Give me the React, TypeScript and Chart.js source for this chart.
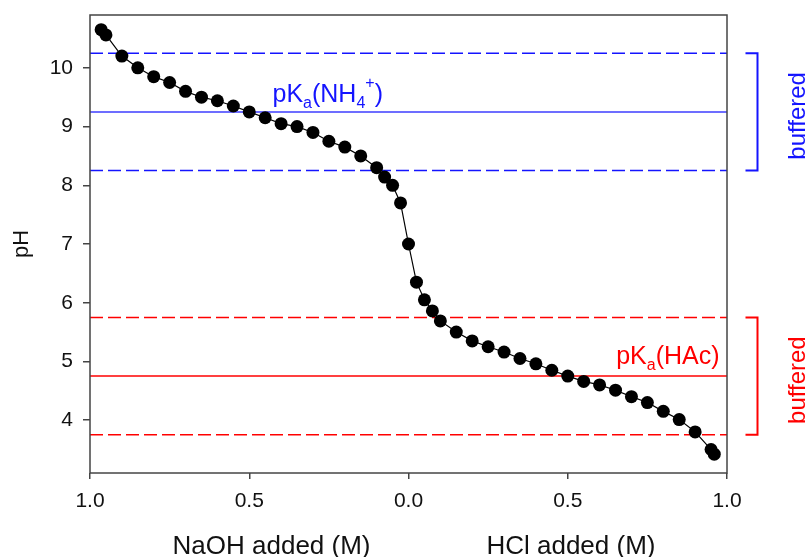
import React, { useEffect, useRef } from "react";
import { Chart, registerables } from "chart.js";

Chart.register(...registerables);

// ---- data ----
const addedM = [
  -0.965, -0.95, -0.9, -0.85, -0.8, -0.75, -0.7, -0.65, -0.6, -0.55, -0.5, -0.45,
  -0.4, -0.35, -0.3, -0.25, -0.2, -0.15, -0.1, -0.075, -0.05, -0.025, 0, 0.025,
  0.05, 0.075, 0.1, 0.15, 0.2, 0.25, 0.3, 0.35, 0.4, 0.45, 0.5, 0.55, 0.6, 0.65,
  0.7, 0.75, 0.8, 0.85, 0.9, 0.95, 0.96,
];
const pHValues = [
  10.65, 10.56, 10.2, 10.0, 9.85, 9.75, 9.6, 9.5, 9.44, 9.35, 9.25, 9.15, 9.05,
  9.0, 8.9, 8.75, 8.65, 8.5, 8.3, 8.14, 8.0, 7.7, 7.0, 6.35, 6.05, 5.86, 5.69,
  5.5, 5.35, 5.25, 5.16, 5.05, 4.96, 4.85, 4.75, 4.66, 4.6, 4.51, 4.4, 4.3, 4.15,
  4.01, 3.8, 3.5, 3.42,
];
const xTickValues = [-1, -0.5, 0, 0.5, 1];
const yTickValues = [4, 5, 6, 7, 8, 9, 10];
const pKaNH4 = 9.25;
const pKaHAc = 4.75;
const bufferRange = 1;
const xTitles = ["NaOH added (M)", "HCl added (M)"];
const yTitle = "pH";
const bufferLabel = "buffered";

const BLUE = "rgb(20,20,255)";
const BLUE_SOLID = "rgb(60,60,255)";
const RED = "rgb(255,0,0)";
const FONT = '"Liberation Sans", Arial, Helvetica, sans-serif';

function drawRich(ctx: CanvasRenderingContext2D, parts: [string, string][], x: number, y: number, color: string) {
  let cx = x;
  ctx.fillStyle = color;
  ctx.textAlign = "left";
  ctx.textBaseline = "alphabetic";
  for (const [t, k] of parts) {
    ctx.font = k === "n" ? `25px ${FONT}` : `16px ${FONT}`;
    const dy = k === "sub" ? 6 : k === "sup" ? -14 : 0;
    ctx.fillText(t, cx, y + dy);
    cx += ctx.measureText(t).width;
  }
}

const annotatePlugin = {
  id: "annotate",
  afterDraw(chart: any) {
    const { ctx, chartArea: ca, scales } = chart;
    const x = scales.x;
    const y = scales.y;
    ctx.save();
    // frame
    ctx.strokeStyle = "#444";
    ctx.lineWidth = 1.5;
    ctx.strokeRect(ca.left, ca.top, ca.right - ca.left, ca.bottom - ca.top);

    // brackets + labels
    const bx = ca.right + 30.5;
    const bracket = (center: number, color: string) => {
      const yt = y.getPixelForValue(center + bufferRange);
      const yb = y.getPixelForValue(center - bufferRange);
      ctx.strokeStyle = color;
      ctx.lineWidth = 2;
      ctx.beginPath();
      ctx.moveTo(bx - 12, yt);
      ctx.lineTo(bx, yt);
      ctx.lineTo(bx, yb);
      ctx.lineTo(bx - 12, yb);
      ctx.stroke();
      ctx.save();
      ctx.translate(ca.right + 78, (yt + yb) / 2 + 4);
      ctx.rotate(-Math.PI / 2);
      ctx.fillStyle = color;
      ctx.font = `24px ${FONT}`;
      ctx.textAlign = "center";
      ctx.textBaseline = "alphabetic";
      ctx.fillText(bufferLabel, 0, 0);
      ctx.restore();
    };
    bracket(pKaNH4, BLUE);
    bracket(pKaHAc, RED);

    // pKa labels
    drawRich(
      ctx,
      [["pK", "n"], ["a", "sub"], ["(NH", "n"], ["4", "sub"], ["+", "sup"], [")", "n"]],
      x.getPixelForValue(-0.427),
      y.getPixelForValue(9.42),
      BLUE
    );
    drawRich(
      ctx,
      [["pK", "n"], ["a", "sub"], ["(HAc)", "n"]],
      x.getPixelForValue(0.652),
      y.getPixelForValue(4.95),
      RED
    );

    // axis titles
    ctx.fillStyle = "#111";
    ctx.font = `26px ${FONT}`;
    ctx.textAlign = "center";
    ctx.textBaseline = "alphabetic";
    ctx.fillText(xTitles[0], x.getPixelForValue(-0.43), 553.5);
    ctx.fillText(xTitles[1], x.getPixelForValue(0.51), 553.5);
    ctx.save();
    ctx.translate(21.5, (ca.top + ca.bottom) / 2);
    ctx.rotate(-Math.PI / 2);
    ctx.textBaseline = "middle";
    ctx.font = `22px ${FONT}`;
    ctx.fillText(yTitle, 0, 0);
    ctx.restore();
    ctx.restore();
  },
};

export default function App() {
  const ref = useRef<HTMLCanvasElement | null>(null);
  useEffect(() => {
    document.body.style.margin = "0";
    const canvas = ref.current;
    if (!canvas) return;
    const hline = (v: number, color: string, dashed: boolean) => ({
      type: "line" as const,
      data: [
        { x: -1, y: v },
        { x: 1, y: v },
      ],
      borderColor: color,
      borderWidth: 1.5,
      borderDash: dashed ? [13, 5] : [],
      pointRadius: 0,
      showLine: true,
      order: 2,
    });
    const chart = new Chart(canvas, {
      type: "scatter",
      data: {
        datasets: [
          {
            data: addedM.map((v, i) => ({ x: v, y: pHValues[i] })),
            showLine: true,
            borderColor: "#000",
            borderWidth: 1.2,
            backgroundColor: "#000",
            pointBackgroundColor: "#000",
            pointBorderWidth: 0,
            pointRadius: 6.5,
            order: 0,
          } as any,
          hline(pKaNH4 + bufferRange, BLUE, true),
          hline(pKaNH4, BLUE_SOLID, false),
          hline(pKaNH4 - bufferRange, BLUE, true),
          hline(pKaHAc + bufferRange, RED, true),
          hline(pKaHAc, RED, false),
          hline(pKaHAc - bufferRange, RED, true),
        ],
      },
      options: {
        animation: false,
        responsive: false,
        maintainAspectRatio: false,
        layout: { padding: { top: 15, right: 82, left: 0, bottom: 0 } },
        plugins: { legend: { display: false }, tooltip: { enabled: false } },
        scales: {
          x: {
            type: "linear",
            min: -1,
            max: 1,
            afterBuildTicks: (s: any) => {
              s.ticks = xTickValues.map((v) => ({ value: v }));
            },
            afterFit: (s: any) => {
              s.height = 84;
              s.paddingLeft = 0;
              s.paddingRight = 0;
            },
            ticks: {
              callback: (v: any) => Math.abs(Number(v)).toFixed(1),
              font: { family: FONT, size: 21 },
              color: "#111",
              padding: 10,
              maxRotation: 0,
              autoSkip: false,
            },
            grid: {
              display: true,
              drawOnChartArea: false,
              drawTicks: true,
              tickLength: 6,
              color: "#444",
              lineWidth: 1.5,
            },
            border: { display: false },
          },
          y: {
            type: "linear",
            min: 3.1,
            max: 10.9,
            afterBuildTicks: (s: any) => {
              s.ticks = yTickValues.map((v) => ({ value: v }));
            },
            afterFit: (s: any) => {
              s.width = 90;
              s.paddingTop = 0;
              s.paddingBottom = 0;
            },
            ticks: {
              callback: (v: any) => String(v),
              font: { family: FONT, size: 21 },
              color: "#111",
              padding: 10,
              autoSkip: false,
            },
            grid: {
              display: true,
              drawOnChartArea: false,
              drawTicks: true,
              tickLength: 7,
              color: "#444",
              lineWidth: 1.5,
            },
            border: { display: false },
          },
        },
      } as any,
      plugins: [annotatePlugin],
    });
    return () => chart.destroy();
  }, []);
  return (
    <div style={{ width: 809, height: 557 }}>
      <canvas ref={ref} width={809} height={557} style={{ width: 809, height: 557, display: "block" }} />
    </div>
  );
}
